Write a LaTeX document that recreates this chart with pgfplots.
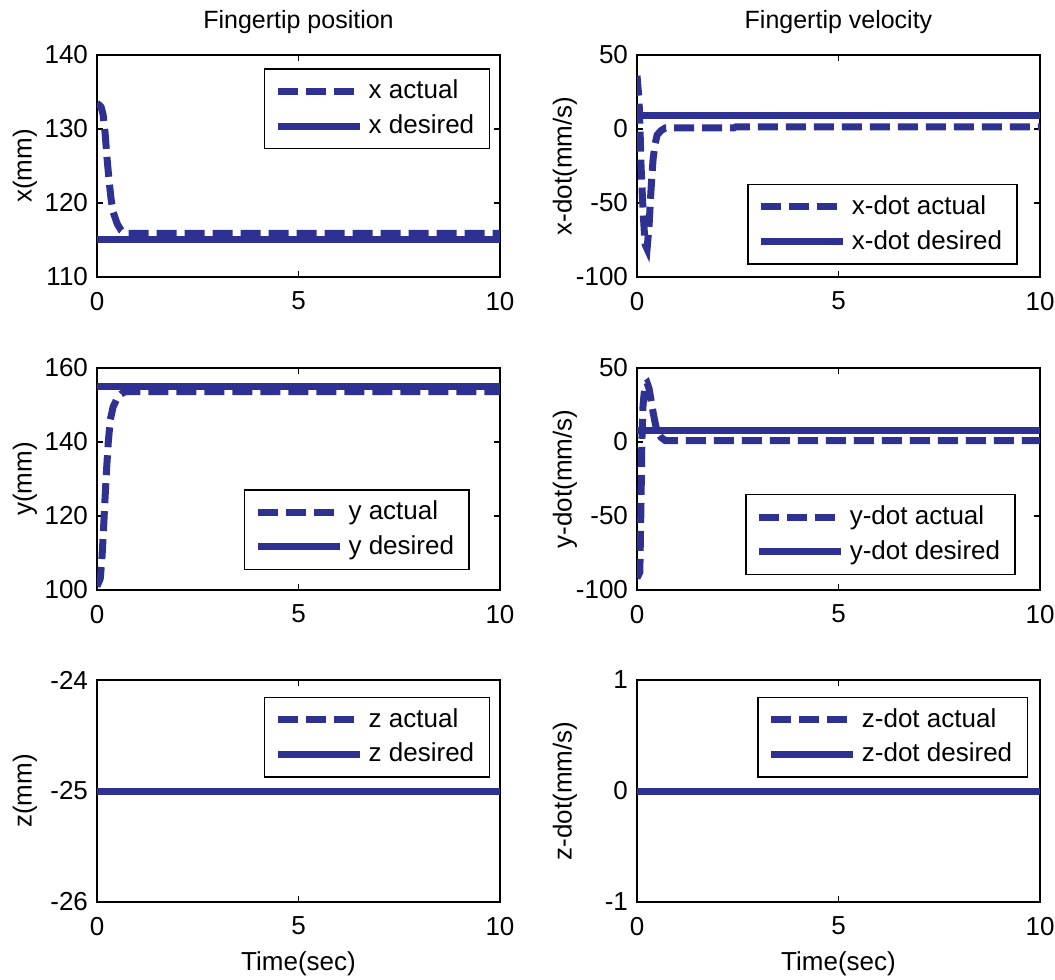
\documentclass[border=0pt]{standalone}
\usepackage{pgfplots}
\pgfplotsset{compat=1.18}
\usepackage{fontspec}
\setmainfont{Liberation Sans}
\definecolor{mblue}{RGB}{46,49,146}
\begin{document}
\fontsize{13}{15}\selectfont
\begin{tikzpicture}
\useasboundingbox (0,0) rectangle (527.5pt,-490pt);
\pgfplotsset{
  every axis/.append style={
    scale only axis, width=201.5pt, height=111pt, anchor=north west,
    xmin=0, xmax=10, xtick={0,5,10},
    tick align=inside, major tick length=3pt,
    axis line style={line width=0.7pt, black},
    every tick/.style={black, line width=0.6pt},
    /pgf/number format/assume math mode=true,
    ticklabel style={font=\fontsize{13}{15}\selectfont},
    xticklabel style={yshift=-3pt},
    label style={font=\fontsize{13}{15}\selectfont},
    ylabel style={at={(axis description cs:-0.1787,0.5)}, anchor=center},
    xlabel style={at={(axis description cs:0.5,-0.28)}, anchor=center},
    title style={at={(axis description cs:0.5,1.0946)}, anchor=center, font=\fontsize{12.5}{15}\selectfont},
    legend cell align=left,
    legend style={draw=black, line width=0.7pt, fill=white,
      font=\fontsize{13}{15}\selectfont,
      inner xsep=5pt, inner ysep=3pt, row sep=1pt,
      nodes={inner sep=2.5pt}},
    legend image code/.code={\draw[#1] (0pt,0pt) -- (41pt,0pt);},
  },
  act/.style={mblue, line width=3.5pt, dash pattern=on 10pt off 4pt},
  des/.style={mblue, line width=3.5pt},
}
% Row 1 left
\begin{axis}[at={(48.5pt,-27.5pt)}, ymin=110, ymax=140, ytick={110,120,130,140},
  ylabel={x(mm)}, title={Fingertip position},
  legend style={at={(axis description cs:0.975,0.94)}, anchor=north east}]
\addplot[act] coordinates {(0,133.5)(0.1,133)(0.15,132)(0.2,129.5)(0.25,126)(0.3,123)(0.35,120.5)(0.4,118.8)(0.5,117.2)(0.6,116.3)(0.7,115.9)(10,115.9)};
\addplot[des] coordinates {(0,115.1)(10,115.1)};
\legend{x actual, x desired}
\end{axis}
% Row 1 right
\begin{axis}[at={(318.5pt,-27.5pt)}, ymin=-100, ymax=50, ytick={-100,-50,0,50},
  ylabel={x-dot(mm/s)}, title={Fingertip velocity},
  legend style={at={(axis description cs:0.945,0.055)}, anchor=south east}]
\addplot[act] coordinates {(0,36)(0.05,20)(0.08,-5)(0.1,-25)(0.15,-55)(0.2,-78)(0.25,-81)(0.3,-65)(0.35,-40)(0.4,-20)(0.45,-10)(0.5,-4)(0.6,-1)(0.7,0.7)(2.4,0.7)(2.45,1.4)(10,1.4)};
\addplot[des] coordinates {(0,8.8)(10,8.8)};
\legend{x-dot actual, x-dot desired}
\end{axis}
% Row 2 left
\begin{axis}[at={(48.5pt,-184pt)}, ymin=100, ymax=160, ytick={100,120,140,160},
  ylabel={y(mm)},
  legend style={at={(axis description cs:0.925,0.09)}, anchor=south east}]
\addplot[act] coordinates {(0,101)(0.08,103)(0.12,108)(0.16,116)(0.2,125)(0.24,133)(0.28,140)(0.33,146)(0.4,149.5)(0.5,151.8)(0.6,153)(0.7,153.6)(10,153.6)};
\addplot[des] coordinates {(0,154.9)(10,154.9)};
\legend{y actual, y desired}
\end{axis}
% Row 2 right
\begin{axis}[at={(318.5pt,-184pt)}, ymin=-100, ymax=50, ytick={-100,-50,0,50},
  ylabel={y-dot(mm/s)},
  legend style={at={(axis description cs:0.94,0.068)}, anchor=south east}]
\addplot[act] coordinates {(0,-92)(0.07,-88)(0.1,-40)(0.12,0)(0.15,25)(0.2,39)(0.25,40)(0.3,36)(0.35,28)(0.4,20)(0.45,13)(0.5,7)(0.6,3)(0.7,1)(10,0.9)};
\addplot[des] coordinates {(0,7.6)(10,7.6)};
\legend{y-dot actual, y-dot desired}
\end{axis}
% Row 3 left
\begin{axis}[at={(48.5pt,-340pt)}, ymin=-26, ymax=-24, ytick={-26,-25,-24},
  ylabel={z(mm)}, xlabel={Time(sec)},
  legend style={at={(axis description cs:0.975,0.925)}, anchor=north east}]
\addplot[act] coordinates {(0,-25)(10,-25)};
\addplot[des] coordinates {(0,-25)(10,-25)};
\legend{z actual, z desired}
\end{axis}
% Row 3 right
\begin{axis}[at={(318.5pt,-340pt)}, ymin=-1, ymax=1, ytick={-1,0,1},
  ylabel={z-dot(mm/s)}, xlabel={Time(sec)},
  legend style={at={(axis description cs:0.97,0.925)}, anchor=north east}]
\addplot[act] coordinates {(0,0)(10,0)};
\addplot[des] coordinates {(0,0)(10,0)};
\legend{z-dot actual, z-dot desired}
\end{axis}
\end{tikzpicture}
\end{document}
